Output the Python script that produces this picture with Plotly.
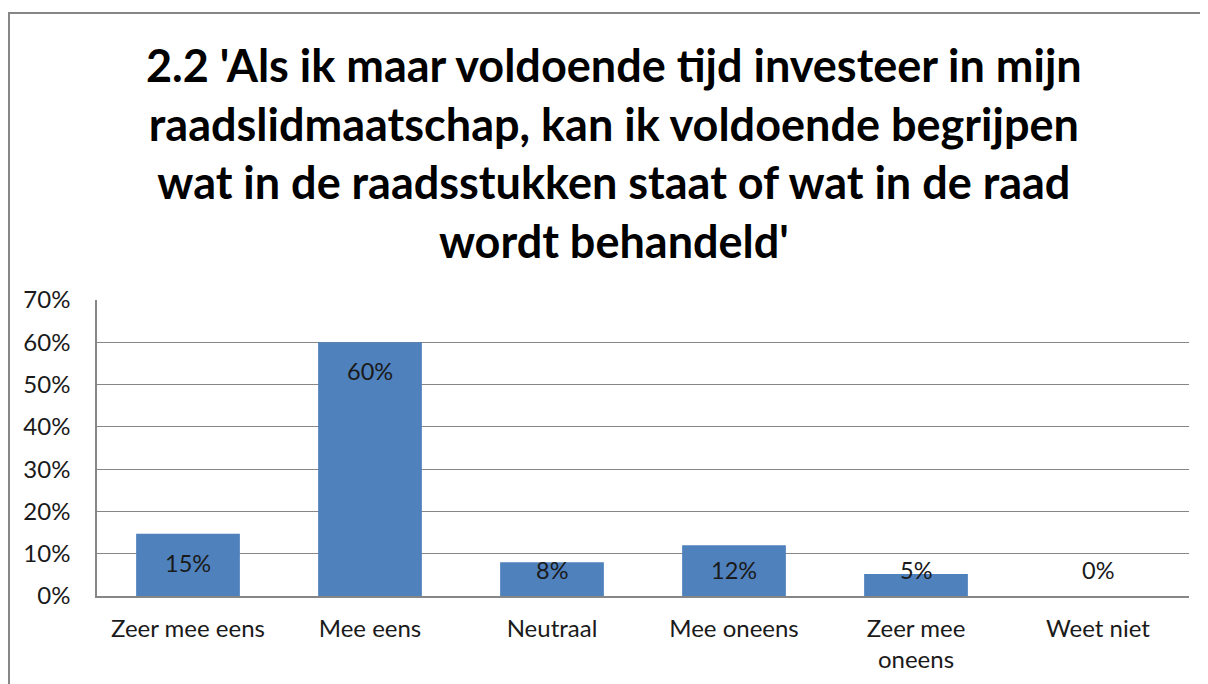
import plotly.graph_objects as go

categories = ["Zeer mee eens", "Mee eens", "Neutraal", "Mee oneens", "Zeer mee<br>oneens", "Weet niet"]
values = [0.147, 0.600, 0.080, 0.120, 0.052, 0.0]
labels = ["15%", "60%", "8%", "12%", "5%", "0%"]
yticks = [0, 0.1, 0.2, 0.3, 0.4, 0.5, 0.6, 0.7]
ytick_text = ["0%", "10%", "20%", "30%", "40%", "50%", "60%", "70%"]
title_text = ("2.2 'Als ik maar voldoende tijd investeer in mijn<br>"
              "raadslidmaatschap, kan ik voldoende begrijpen<br>"
              "wat in de raadsstukken staat of wat in de raad<br>"
              "wordt behandeld'")

FONT = "Lato"
TXT = "#1a1a1a"

fig = go.Figure()
fig.add_trace(go.Bar(x=categories, y=values, marker_color="#4F81BD",
                     marker_line_width=0, hoverinfo="skip"))

for c, v, t in zip(categories, values, labels):
    fig.add_annotation(x=c, y=max(v - 0.069, 0.062), text=t, showarrow=False,
                       font=dict(family=FONT, size=23.5, color=TXT),
                       xref="x", yref="y")

fig.add_annotation(x=0.4735, y=1.497, xref="paper", yref="paper", text=title_text,
                   showarrow=False, align="center", yanchor="middle",
                   font=dict(family=FONT, size=45, color="#000000", weight="bold"))

fig.add_shape(type="rect", xref="paper", yref="paper",
              x0=-0.0806, x1=1.2, y0=-0.5, y1=1.9696,
              line=dict(color="#868686", width=2), fillcolor="rgba(0,0,0,0)", layer="below")

fig.update_layout(
    width=1200, height=676,
    margin=dict(l=89, r=19, t=292, b=88),
    paper_bgcolor="white", plot_bgcolor="white",
    bargap=0.43, showlegend=False,
    font=dict(family=FONT, size=24, color=TXT),
)
fig.update_xaxes(showline=True, linecolor="#868686", linewidth=1.5, ticks="",
                 tickfont=dict(family=FONT, size=24, color=TXT), showgrid=False,
                 ticklabelstandoff=10, automargin=False)
fig.update_yaxes(range=[0, 0.7], tickvals=yticks, ticktext=ytick_text,
                 showline=True, linecolor="#868686", linewidth=1.5,
                 gridcolor="#868686", gridwidth=1.2, ticks="", zeroline=False,
                 tickfont=dict(family=FONT, size=24, color=TXT),
                 ticklabelstandoff=20, automargin=False)

fig.write_html("out.html")
